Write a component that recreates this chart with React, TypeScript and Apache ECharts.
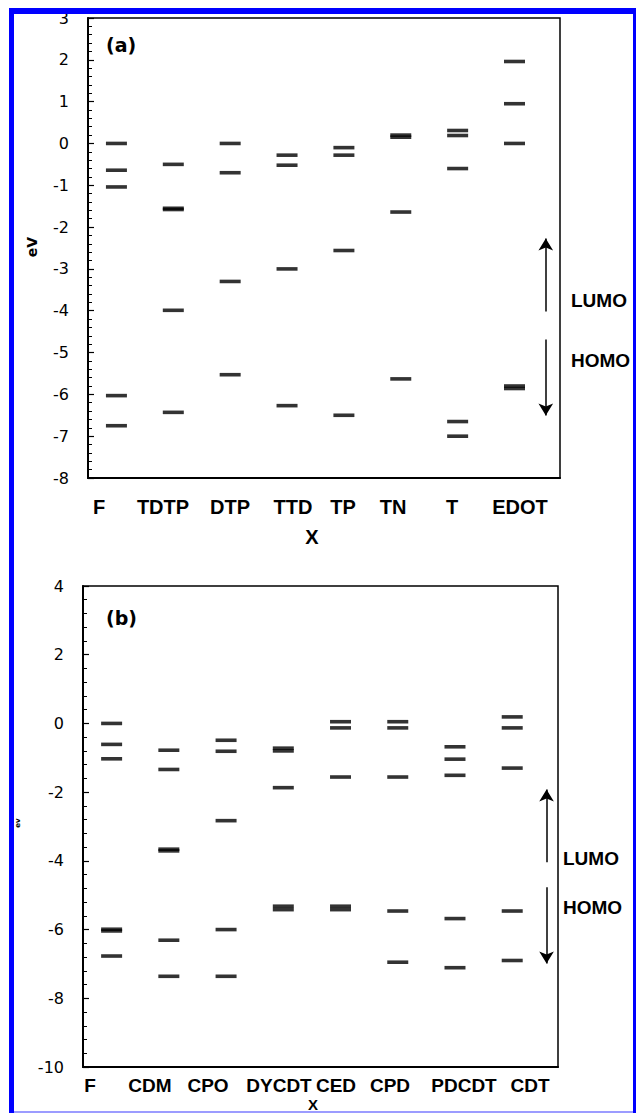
import React, { useEffect, useRef } from "react";
import * as echarts from "echarts";

// ---------- data ----------
const CATS_A = ["F", "TDTP", "DTP", "TTD", "TP", "TN", "T", "EDOT"];
const LEVELS_A: number[][] = [
  [0.0, -0.64, -1.04, -6.03, -6.75],
  [-0.5, -1.55, -1.58, -3.99, -6.43],
  [0.0, -0.7, -3.3, -5.53],
  [-0.28, -0.52, -3.0, -6.27],
  [-0.1, -0.28, -2.56, -6.5],
  [0.2, 0.15, -1.64, -5.63],
  [0.31, 0.19, -0.6, -6.65, -7.0],
  [1.96, 0.95, 0.0, -5.8, -5.86],
];
const CATS_B = ["F", "CDM", "CPO", "DYCDT", "CED", "CPD", "PDCDT", "CDT"];
const LEVELS_B: number[][] = [
  [0.0, -0.61, -1.03, -5.99, -6.04, -6.77],
  [-0.78, -1.34, -3.66, -3.71, -6.31, -7.36],
  [-0.49, -0.81, -2.83, -6.0, -7.36],
  [-0.72, -0.8, -1.87, -5.32, -5.42],
  [0.05, -0.13, -1.56, -5.32, -5.42],
  [0.05, -0.13, -1.56, -5.46, -6.95],
  [-0.68, -1.04, -1.51, -5.68, -7.11],
  [0.19, -0.13, -1.3, -5.46, -6.9],
];
const Y_AXIS_A = { min: -8, max: 3, interval: 1 };
const Y_AXIS_B = { min: -10, max: 4, interval: 2 };
// arrows: [x, fromY, toY] (tip at toY)
const ARROWS_A = [
  [8.55, -4.02, -2.13],
  [8.55, -4.69, -6.65],
];
const ARROWS_B = [
  [8.6, -4.04, -1.75],
  [8.6, -4.77, -7.16],
];
const ARROW_LABELS = ["LUMO", "HOMO"];

// ---------- layout ----------
const W = 636;
const H = 1113;
const GRID_A = { left: 88, top: 18, width: 472, height: 460 };
const GRID_B = { left: 83, top: 586, width: 475, height: 481 };
const X_MIN = 0.5;
const X_MAX = 8.8;
const LABEL_X_A = [99, 163, 230, 293, 343, 393, 452, 520];
const LABEL_X_B = [90, 150, 208, 279, 336, 390, 464, 530];
const LABEL_Y_A = 507;
const LABEL_Y_B = 1085;
const SANS = '"Liberation Sans", Arial, sans-serif';
const DEJAVU = '"DejaVu Sans", Verdana, sans-serif';

function levelsToPoints(levels: number[][]) {
  const pts: number[][] = [];
  levels.forEach((arr, i) => arr.forEach((v) => pts.push([i + 1, v])));
  return pts;
}

function yAxis(gridIndex: number, cfg: { min: number; max: number; interval: number }) {
  return {
    type: "value",
    gridIndex,
    min: cfg.min,
    max: cfg.max,
    interval: cfg.interval,
    axisLine: { show: true, lineStyle: { color: "#000", width: 2 } },
    axisTick: { show: true, inside: true, length: 6, lineStyle: { color: "#000", width: 1.2 } },
    minorTick: { show: true, splitNumber: 5, length: 4, lineStyle: { color: "#000", width: 1 } },
    splitLine: { show: false },
    axisLabel: { color: "#000", fontSize: 16, fontFamily: DEJAVU, margin: 19 },
  };
}

function xAxis(gridIndex: number) {
  return {
    type: "value",
    gridIndex,
    min: X_MIN,
    max: X_MAX,
    axisLine: { show: true, onZero: false, lineStyle: { color: "#000", width: 2 } },
    axisTick: { show: false },
    axisLabel: { show: false },
    splitLine: { show: false },
  };
}

function arrowMarkLine(arrows: number[][], pxPerUnit: number) {
  const half = 6 / pxPerUnit;
  return {
    silent: true,
    symbol: ["none", "arrow"],
    symbolSize: [11, 12],
    lineStyle: { color: "#000", width: 1.5, type: "solid" },
    label: { show: false },
    emphasis: { disabled: true },
    data: arrows.map(([x, y0, y1]) => {
      const dir = y1 > y0 ? 1 : -1;
      return [{ coord: [x, y0] }, { coord: [x, y1 - dir * half] }];
    }),
  };
}

function catLabels(cats: string[], xs: number[], y: number, size: number) {
  return cats.map((c, i) => ({
    type: "text",
    x: xs[i],
    y,
    style: {
      text: c,
      fill: "#000",
      fontSize: size,
      fontWeight: "bold",
      fontFamily: SANS,
      align: "center",
      verticalAlign: "middle",
    },
  }));
}

function boldText(text: string, x: number, y: number, size: number, extra: any = {}) {
  return {
    type: "text",
    x,
    y,
    ...extra,
    style: {
      text,
      fill: "#000",
      fontSize: size,
      fontWeight: "bold",
      fontFamily: extra.fontFamily || SANS,
      align: extra.align || "left",
      verticalAlign: "middle",
    },
  };
}

export default function App() {
  const ref = useRef<HTMLDivElement>(null);
  useEffect(() => {
    if (!ref.current) return;
    const chart = echarts.init(ref.current, null, { renderer: "svg" });
    const pxA = GRID_A.height / (Y_AXIS_A.max - Y_AXIS_A.min);
    const pxB = GRID_B.height / (Y_AXIS_B.max - Y_AXIS_B.min);
    const levelSymbol = {
      type: "scatter",
      symbol: "rect",
      symbolSize: [21, 3.6],
      itemStyle: { color: "#000" },
      silent: true,
    };
    chart.setOption({
      animation: false,
      backgroundColor: "#fff",
      grid: [
        { ...GRID_A, show: true, borderColor: "#000", borderWidth: 1.5, backgroundColor: "transparent" },
        { ...GRID_B, show: true, borderColor: "#000", borderWidth: 1.5, backgroundColor: "transparent" },
      ],
      xAxis: [xAxis(0), xAxis(1)],
      yAxis: [yAxis(0, Y_AXIS_A), yAxis(1, Y_AXIS_B)],
      series: [
        {
          ...levelSymbol,
          xAxisIndex: 0,
          yAxisIndex: 0,
          data: levelsToPoints(LEVELS_A),
          markLine: arrowMarkLine(ARROWS_A, pxA),
        },
        {
          ...levelSymbol,
          xAxisIndex: 1,
          yAxisIndex: 1,
          data: levelsToPoints(LEVELS_B),
          markLine: arrowMarkLine(ARROWS_B, pxB),
        },
      ],
      graphic: [
        ...catLabels(CATS_A, LABEL_X_A, LABEL_Y_A, 20),
        ...catLabels(CATS_B, LABEL_X_B, LABEL_Y_B, 19),
        boldText("X", 312, 537, 20, { align: "center" }),
        boldText("X", 313, 1104, 15, { align: "center" }),
        boldText("(a)", 106, 45, 19, { fontFamily: DEJAVU }),
        boldText("(b)", 106, 618, 19, { fontFamily: DEJAVU }),
        boldText("eV", 32, 247, 14, { align: "center", rotation: Math.PI / 2, fontFamily: DEJAVU }),
        boldText("ev", 18, 823, 7, { align: "center", rotation: Math.PI / 2, fontFamily: DEJAVU }),
        boldText(ARROW_LABELS[0], 571, 300, 19),
        boldText(ARROW_LABELS[1], 571, 360, 19),
        boldText(ARROW_LABELS[0], 563, 858, 19),
        boldText(ARROW_LABELS[1], 563, 907, 19),
        // blue frame
        { type: "rect", z: 100, shape: { x: 9, y: 8, width: W - 9, height: 6 }, style: { fill: "#0000ff" } },
        { type: "rect", z: 100, shape: { x: 9, y: 8, width: 5, height: H - 8 }, style: { fill: "#0000ff" } },
        { type: "rect", z: 100, shape: { x: 633, y: 8, width: 3, height: H - 8 }, style: { fill: "#0000ff" } },
        { type: "rect", z: 100, shape: { x: 14, y: 1111, width: 619, height: 2 }, style: { fill: "#9c9cff" } },
      ],
    });
    return () => chart.dispose();
  }, []);
  return (
    <div
      ref={ref}
      style={{ position: "absolute", left: 0, top: 0, width: W, height: H, background: "#fff" }}
    />
  );
}
